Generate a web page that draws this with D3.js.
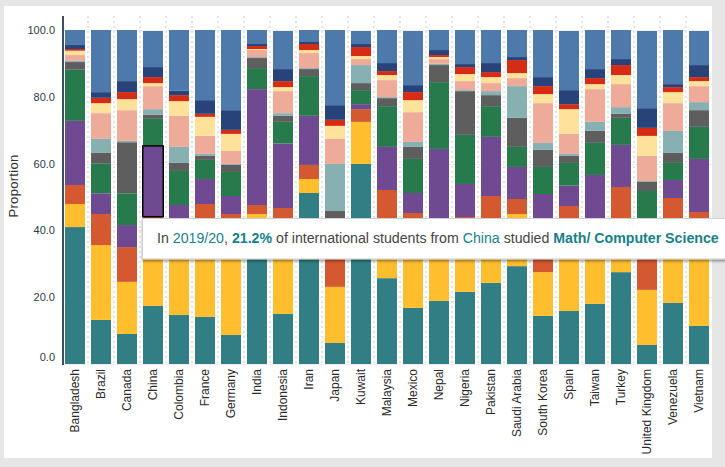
<!DOCTYPE html>
<html><head><meta charset="utf-8">
<script src="https://cdn.jsdelivr.net/npm/d3@7"></script>
<style>
html,body{margin:0;padding:0;overflow:hidden;background:#e6e6e6;}
svg{display:block}
</style></head><body>
<svg id="chart" width="725" height="467"></svg>
<script>
// ---------- DATA ----------
const countries = ["Bangladesh","Brazil","Canada","China","Colombia","France","Germany","India","Indonesia","Iran","Japan","Kuwait","Malaysia","Mexico","Nepal","Nigeria","Pakistan","Saudi Arabia","South Korea","Spain","Taiwan","Turkey","United Kingdom","Venezuela","Vietnam"];
const fields = ["Engineering","Business/ Management","Fine/ Applied Arts","Math/ Computer Science","Physical/ Life Sciences","Health Professions","Intensive English","Social Sciences","Humanities","Education","Communications/ Journalism","Other Fields"];
const fieldColors = ["#317f84","#febe2e","#d45830","#6f4992","#267a4c","#5e5e5e","#87b0b3","#efab9a","#ffe29a","#d62b14","#27437a","#4d7aab"];
const yTicks = [0,20,40,60,80,100];
const year = "2019/20";
const highlightCountry = "China";
const highlightField = "Math/ Computer Science";

const engineering      = [41.0,13.2, 9.0,17.4,14.7,14.1, 8.7,41.0,15.0,51.2, 6.3,59.9,25.7,16.8,18.9,21.6,24.3,29.3,14.4,15.9,18.0,27.5, 5.7,18.3,11.4];
const business         = [ 6.9,22.4,15.6,23.2,25.3,28.9,34.8, 3.9,28.0, 4.2,16.8,12.6,16.3,25.7,22.6,20.4,18.7,15.6,13.1,26.1,22.5,15.5,16.5,24.7,31.6];
const fineArts         = [ 5.7, 9.3,10.4, 3.5, 3.0, 4.9, 1.4, 2.7, 3.7, 4.2,13.0, 3.8,10.1, 2.7, 1.5, 2.0, 7.3, 4.5,12.5, 5.3, 1.5,10.0,16.8, 6.7, 2.5];
const mathCS           = [19.2, 6.2, 6.6,21.2, 4.6, 7.5, 5.4,34.7,19.3,14.7, 3.0, 1.5,12.9, 6.0,21.4, 9.9,17.7, 9.6,10.9, 6.1,14.6,12.6, 2.0, 5.4,15.9];
const physLife         = [15.3, 9.0, 9.5, 8.1,10.2, 5.7, 7.2, 6.3, 6.5,11.9, 3.0, 4.2,12.2,10.2,20.0,14.7, 9.2, 6.0, 8.1, 6.8, 9.6, 8.1,10.8, 5.1, 9.6];
const health           = [ 2.3, 3.1,15.3, 1.2, 2.4, 1.2, 2.1, 3.0, 1.8, 2.1, 3.7, 2.1, 2.4, 3.6, 5.1,13.1, 3.3, 8.7, 5.1, 2.1, 3.6, 1.2, 2.7, 3.0, 5.0];
const intensiveEnglish = [ 0.4, 4.2, 0.4, 1.7, 4.8, 0.6, 0.3, 0.3, 0.8, 0.3,14.1, 5.4, 0.3, 1.5, 0.4, 0.3, 1.2, 9.5, 2.1, 0.6, 2.7, 2.0, 0.3, 6.6, 2.4];
const socialSci        = [ 1.7, 7.7, 9.2, 6.9, 9.3, 5.4, 3.9, 2.1, 6.6, 4.5, 7.5, 1.8, 5.1, 8.9, 1.4, 2.7, 2.4, 2.4,11.9, 6.0, 9.8, 6.9, 7.5, 8.3, 4.8];
const humanities       = [ 1.3, 3.0, 3.3, 0.9, 4.4, 5.7, 5.1, 0.3, 1.2, 0.9, 3.9, 0.9, 1.5, 3.6, 0.6, 2.1, 1.8, 1.5, 2.7, 7.4, 1.5, 2.7, 6.0, 3.3, 1.5];
const education        = [ 0.5, 1.6, 2.1, 1.8, 1.8, 0.9, 1.2, 0.9, 1.8, 1.8, 1.8, 2.7, 1.2, 2.4, 0.6, 2.1, 1.5, 3.9, 2.4, 1.5, 1.8, 3.0, 2.4, 1.5, 1.2];
const communications   = [ 1.2, 1.7, 3.3, 3.0, 1.3, 4.1, 5.9, 0.6, 3.6, 0.6, 4.4, 0.9, 2.4, 2.1, 1.5, 0.9, 2.7, 0.9, 2.7, 4.2, 2.7, 1.8, 5.9, 0.9, 3.6];
const otherFields      = [ 4.5,18.6,15.3,10.8,18.2,21.0,24.0, 4.2,11.4, 3.6,22.5, 3.9, 9.9,16.2, 6.0,10.2, 9.9, 8.1,14.1,17.7,11.7, 8.7,23.1,16.2,10.2];

const seriesValues = [engineering,business,fineArts,mathCS,physLife,health,intensiveEnglish,socialSci,humanities,education,communications,otherFields];

// ---------- BUILD ----------
const rows = countries.map((c,i)=>{
  const r = {country:c};
  fields.forEach((f,k)=>{ r[f] = seriesValues[k][i]; });
  return r;
});
const stacked = d3.stack().keys(fields)(rows);

const svg = d3.select("#chart");
const W = 725, H = 467;
const panel = {x:4, y:6, w:708, h:452};
const plotLeft = 62, plotRight = 712, plotTop = 16, plotBottom = 364;

const x = d3.scaleBand().domain(countries).range([plotLeft, plotRight])
  .paddingInner(6/26).paddingOuter(3/26);
const y = d3.scaleLinear().domain([0,100]).range([plotBottom, 30]);
const color = d3.scaleOrdinal().domain(fields).range(fieldColors);

svg.append("rect").attr("width",W).attr("height",H).attr("fill","#e6e6e6");
svg.append("rect").attr("x",panel.x).attr("y",panel.y).attr("width",panel.w).attr("height",panel.h).attr("fill","#ffffff");

// horizontal grid
svg.append("g").selectAll("line").data(yTicks).join("line")
  .attr("x1",plotLeft+1).attr("x2",plotRight)
  .attr("y1",d=>Math.round(y(d))+0.5).attr("y2",d=>Math.round(y(d))+0.5)
  .attr("stroke","#eeeeee").attr("stroke-width",1);

// vertical dotted separators
svg.append("g").selectAll("line").data(countries.slice(1)).join("line")
  .attr("x1",d=>x(d)-x.step()*x.paddingInner()/2).attr("x2",d=>x(d)-x.step()*x.paddingInner()/2)
  .attr("y1",plotTop).attr("y2",plotBottom)
  .attr("stroke","#e3e3e3").attr("stroke-width",2).attr("stroke-dasharray","2,3");

// bars
svg.append("g").selectAll("g").data(stacked).join("g")
  .attr("fill",d=>color(d.key))
  .selectAll("rect").data(d=>d).join("rect")
  .attr("x",d=>x(d.data.country))
  .attr("width",x.bandwidth())
  .attr("y",d=>y(d[1]))
  .attr("height",d=>Math.max(0,y(d[0])-y(d[1])));

// highlight
const hs = stacked[fields.indexOf(highlightField)];
const hd = hs[countries.indexOf(highlightCountry)];
svg.append("rect")
  .attr("x",x(highlightCountry)-0.25).attr("width",x.bandwidth()+0.5)
  .attr("y",y(hd[1])).attr("height",y(hd[0])-y(hd[1]))
  .attr("fill","none").attr("stroke","#000").attr("stroke-width",1.5);

// y axis
const yAxis = svg.append("g").attr("transform",`translate(${plotLeft+1},0)`)
  .call(d3.axisLeft(y).tickValues(yTicks).tickFormat(d3.format(".1f")).tickSize(0).tickPadding(8));
yAxis.select(".domain").remove();
yAxis.selectAll("text").attr("font-family","'Liberation Sans',Arial,sans-serif").attr("font-size",11).attr("fill","#2e3a48");
yAxis.selectAll(".tick").filter(d=>d===0).select("text").attr("dy","-0.32em");
svg.append("line").attr("x1",plotLeft+1).attr("x2",plotLeft+1).attr("y1",plotTop).attr("y2",plotBottom+1)
  .attr("stroke","#3d4f60").attr("stroke-width",2);

// y title
svg.append("text").attr("transform",`translate(13,186) rotate(-90)`)
  .attr("text-anchor","middle").attr("dy","0.35em")
  .attr("font-family","'Liberation Sans',Arial,sans-serif").attr("font-size",13).attr("fill","#333")
  .attr("letter-spacing","0.3")
  .text("Proportion");

// x labels
svg.append("g").selectAll("text").data(countries).join("text")
  .attr("transform",d=>`translate(${x(d)+x.bandwidth()/2},${plotBottom+5}) rotate(-90)`)
  .attr("text-anchor","end").attr("dy","0.35em")
  .attr("font-family","'Liberation Sans',Arial,sans-serif").attr("font-size",12).attr("fill","#2a2a2a")
  .text(d=>d);

// tooltip
const defs = svg.append("defs");
const f = defs.append("filter").attr("id","shadow").attr("x","-5%").attr("y","-30%").attr("width","110%").attr("height","170%");
f.append("feDropShadow").attr("dx",0).attr("dy",2).attr("stdDeviation",1.2).attr("flood-color","#000").attr("flood-opacity",0.35);

const tipX = x(highlightCountry) - 0.5;
const tip = svg.append("g");
tip.append("rect").attr("x",tipX).attr("y",218.5).attr("width",640).attr("height",40.5)
  .attr("fill","#fff").attr("stroke","#cfcfcf").attr("stroke-width",1).attr("filter","url(#shadow)");
const teal = "#17808b";
const t = tip.append("text").attr("x",tipX+14.5).attr("y",243)
  .attr("font-family","'Liberation Sans',Arial,sans-serif").attr("font-size",13).attr("fill","#444");
t.append("tspan").text("In ");
t.append("tspan").attr("fill",teal).text(year);
t.append("tspan").text(", ");
t.append("tspan").attr("fill",teal).attr("font-weight","bold").text(d3.format(".1f")(hd[1]-hd[0])+"%");
t.append("tspan").text(" of international students from ");
t.append("tspan").attr("fill",teal).text(highlightCountry);
t.append("tspan").text(" studied ");
t.append("tspan").attr("fill",teal).attr("font-weight","bold").text(highlightField);
// fit text width to the reference extent
const targetW = 562;
const w0 = t.node().getComputedTextLength();
if (w0 > 0) t.attr("font-size", (13*targetW/w0).toFixed(2));
</script>
</body></html>
